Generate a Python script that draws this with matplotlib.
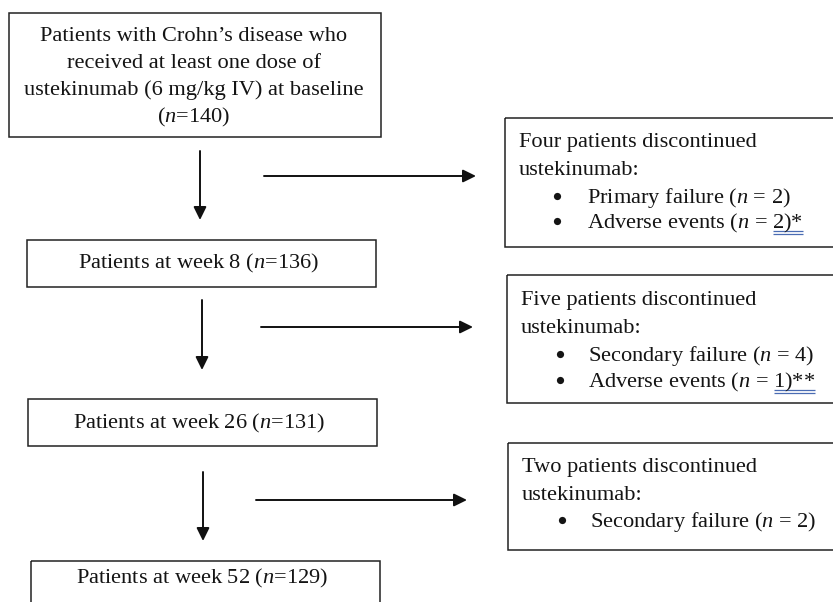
import matplotlib
matplotlib.use("Agg")
import matplotlib.pyplot as plt
from matplotlib.patches import Rectangle

# ---------------- data ----------------
stage_labels = ["baseline", "week 8", "week 26", "week 52"]
stage_n = [140, 136, 131, 129]
disc_words = ["Four", "Five", "Two"]
disc_reasons = [["Primary failure", "Adverse events"],
                ["Secondary failure", "Adverse events"],
                ["Secondary failure"]]
disc_reason_n = [[2, 2], [4, 1], [2]]
disc_reason_marks = [["", "*"], ["", "**"], [""]]

# ---------------- style / layout ----------------
plt.rcParams["font.family"] = ["Liberation Serif", "DejaVu Serif"]
plt.rcParams["mathtext.fontset"] = "custom"
plt.rcParams["mathtext.rm"] = "Liberation Serif"
plt.rcParams["mathtext.it"] = "Liberation Serif:italic"
FS = 16.1
TXT = "#141414"
EDGE = "#222222"
ULINE = "#4a6cb3"

W, H = 833, 602
fig = plt.figure(figsize=(W / 100, H / 100), dpi=100)
ax = fig.add_axes([0, 0, 1, 1])
ax.set_xlim(0, W)
ax.set_ylim(H, 0)
ax.axis("off")

left_boxes = [(9, 13, 381, 137), (27, 240, 376, 287), (28, 399, 377, 446), (31, 561, 380, 660)]
right_boxes = [(505, 118, 860, 247), (507, 275, 860, 403), (508, 443, 860, 550)]
v_arrows = [(200, 151, 220), (202, 300, 370), (203, 472, 541)]
h_arrows = [(176, 264, 476), (327, 261, 473), (500, 256, 467)]

for (x0, y0, x1, y1) in left_boxes + right_boxes:
    ax.add_patch(Rectangle((x0, y0), x1 - x0, y1 - y0, fill=False,
                           edgecolor=EDGE, linewidth=1.1, clip_on=True))

arrow_kw = dict(arrowstyle="-|>,head_length=0.65,head_width=0.32",
                color="#111111", lw=1.4, shrinkA=0, shrinkB=0, mutation_scale=12)
for (x, ya, yb) in v_arrows:
    ax.annotate("", xy=(x, yb), xytext=(x, ya), arrowprops=arrow_kw)
for (y, xa, xb) in h_arrows:
    ax.annotate("", xy=(xb, y), xytext=(xa, y), arrowprops=arrow_kw)

# ---------------- left column text ----------------
first_lines = ["Patients with Crohn\u2019s disease who",
               "received at least one dose of",
               "ustekinumab (6 mg/kg IV) at " + stage_labels[0],
               "($\\it{n}$=%d)" % stage_n[0]]
first_base = [41, 68, 95, 122]
cx0 = (left_boxes[0][0] + left_boxes[0][2]) / 2 - 1
for line, yb in zip(first_lines, first_base):
    ax.text(cx0, yb, line, ha="center", va="baseline", fontsize=FS, color=TXT)

stage_base = [268, 428, 583]
for i, yb in enumerate(stage_base):
    bx = left_boxes[i + 1]
    cx = (bx[0] + bx[2]) / 2 - 3
    ax.text(cx, yb, "Patients at %s ($\\it{n}$=%d)" % (stage_labels[i + 1], stage_n[i + 1]),
            ha="center", va="baseline", fontsize=FS, color=TXT)

# ---------------- right column text ----------------
right_text_x = [519, 521, 522]
bullet_x = [557, 560, 562]
bullet_text_x = [587, 588, 590]
right_base = [[147, 175, 203, 228], [305, 333, 361, 387], [472, 500, 527]]

fig.canvas.draw()
renderer = fig.canvas.get_renderer()

for k in range(3):
    b = right_base[k]
    ax.text(right_text_x[k], b[0], "%s patients discontinued" % disc_words[k],
            ha="left", va="baseline", fontsize=FS, color=TXT)
    ax.text(right_text_x[k], b[1], "ustekinumab:",
            ha="left", va="baseline", fontsize=FS, color=TXT)
    for j, reason in enumerate(disc_reasons[k]):
        yb = b[2 + j]
        # bullet glyph
        ax.plot([bullet_x[k]], [yb - 7], marker="o", ms=5.2, color=TXT,
                markeredgewidth=0)
        mark = disc_reason_marks[k][j]
        tail = "%d)%s" % (disc_reason_n[k][j], mark)
        t = ax.text(bullet_text_x[k], yb, "%s ($\\it{n}$ = %s" % (reason, tail),
                    ha="left", va="baseline", fontsize=FS, color=TXT)
        if mark:
            full = t.get_window_extent(renderer)
            tt = ax.text(0, 0, tail, fontsize=FS, alpha=0)
            wt = tt.get_window_extent(renderer).width
            tt.remove()
            xe = bullet_text_x[k] + full.width
            xs = xe - wt
            for dy in (3.0, 5.5):
                ax.plot([xs, xe], [yb + dy, yb + dy], color=ULINE, lw=0.9,
                        solid_capstyle="butt")

fig.savefig("out.png", dpi=100)
